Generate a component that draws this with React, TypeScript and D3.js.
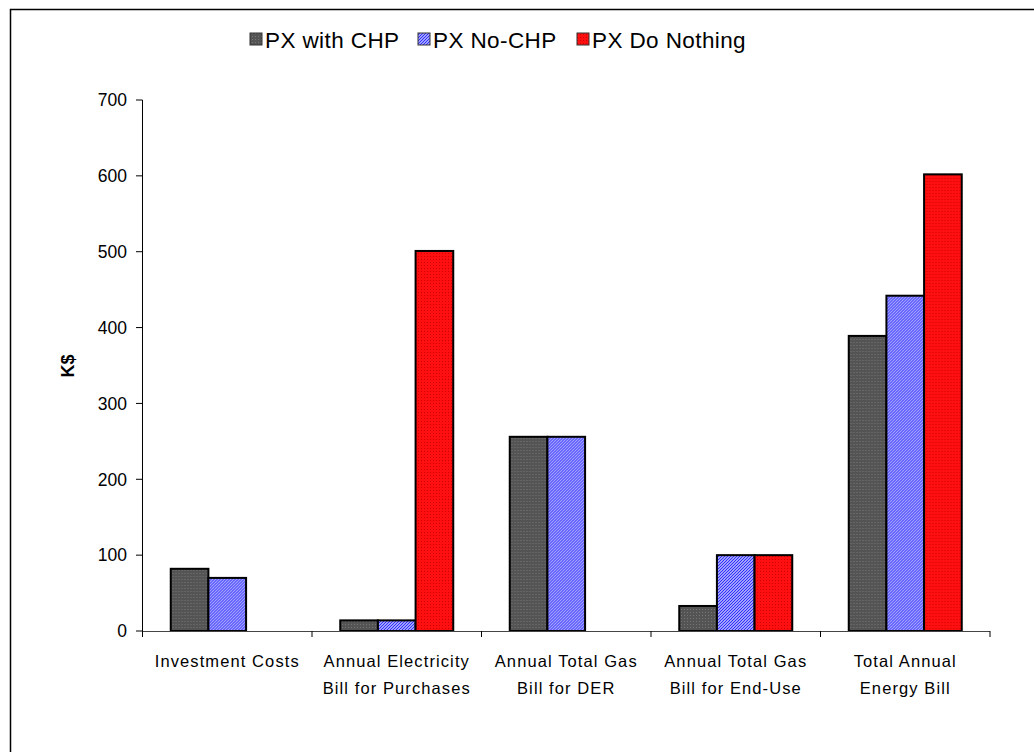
import React from "react";
import * as d3 from "d3";

const categories: string[][] = [
  ["Investment Costs"],
  ["Annual Electricity", "Bill for Purchases"],
  ["Annual Total Gas", "Bill for DER"],
  ["Annual Total Gas", "Bill for End-Use"],
  ["Total Annual", "Energy Bill"],
];
const seriesNames = ["PX with CHP", "PX No-CHP", "PX Do Nothing"];
const withCHP = [82, 14, 256, 33, 389];
const noCHP = [70, 14, 256, 100, 442];
const doNothing = [0, 501, 0, 100, 602];
const yTicks = [0, 100, 200, 300, 400, 500, 600, 700];

const seriesValues = [withCHP, noCHP, doNothing];
const fills = ["url(#patGray)", "url(#patBlue)", "url(#patRed)"];

export default function App() {
  const W = 1034;
  const H = 752;
  const x0 = d3
    .scaleBand<number>()
    .domain(categories.map((_, i) => i))
    .range([142.5, 990])
    .padding(0);
  const x1 = d3
    .scaleBand<number>()
    .domain([0, 1, 2])
    .range([0, x0.bandwidth()])
    .paddingInner(0)
    .paddingOuter(0.75);
  const y = d3.scaleLinear().domain([0, 700]).range([631, 100]);
  const font = "Liberation Sans, Arial, sans-serif";

  const legendItems = [
    { x: 250, label: seriesNames[0] },
    { x: 418, label: seriesNames[1] },
    { x: 577, label: seriesNames[2] },
  ];

  return (
    <svg
      width={W}
      height={H}
      style={{ position: "absolute", left: 0, top: 0, background: "#fff" }}
      fontFamily={font}
    >
      <defs>
        <pattern id="patGray" width="3" height="3" patternUnits="userSpaceOnUse">
          <rect width="3" height="3" fill="#545454" />
          <rect x="0" y="0" width="1" height="1" fill="#767676" />
        </pattern>
        <pattern id="patBlue" width="3" height="3" patternUnits="userSpaceOnUse">
          <rect width="3" height="3" fill="#ffffff" />
          <path d="M0,3 L3,0 M-1,1 L1,-1 M2,4 L4,2" stroke="#2f2fff" strokeWidth="1.3" />
        </pattern>
        <pattern id="patRed" width="3" height="3" patternUnits="userSpaceOnUse">
          <rect width="3" height="3" fill="#ff1010" />
          <rect x="1" y="1" width="1" height="1" fill="#d00000" />
        </pattern>
      </defs>

      <rect x={10.5} y={9.5} width={1040} height={760} fill="none" stroke="#000" strokeWidth={1.5} />

      {/* Legend */}
      {legendItems.map((it, i) => (
        <g key={i}>
          <rect x={it.x} y={33} width={12} height={12} fill={fills[i]} stroke="#333" strokeWidth={1} />
          <text x={it.x + 15} y={47.5} fontSize={22.5} letterSpacing={0.4} fill="#000">
            {it.label}
          </text>
        </g>
      ))}

      {/* Bars */}
      {categories.map((_, ci) => (
        <g key={ci} transform={`translate(${x0(ci)},0)`}>
          {seriesValues.map((vals, si) =>
            vals[ci] > 0 ? (
              <rect
                key={si}
                x={x1(si)!}
                y={y(vals[ci])}
                width={x1.bandwidth()}
                height={y(0) - y(vals[ci])}
                fill={fills[si]}
                stroke="#000"
                strokeWidth={2}
              />
            ) : null
          )}
        </g>
      ))}

      {/* Y axis */}
      <line x1={142.5} x2={142.5} y1={y(700)} y2={y(0)} stroke="#000" strokeWidth={1} />
      {yTicks.map((t) => (
        <g key={t}>
          <line x1={136} x2={142.5} y1={y(t)} y2={y(t)} stroke="#000" strokeWidth={1} />
          <text x={127} y={y(t)} dy="0.36em" textAnchor="end" fontSize={17.5} fill="#000">
            {t}
          </text>
        </g>
      ))}

      {/* X axis */}
      <line x1={142.5} x2={990} y1={y(0) + 0.5} y2={y(0) + 0.5} stroke="#444" strokeWidth={1} />
      {d3.range(categories.length + 1).map((i) => {
        const xx = i < categories.length ? x0(i)! : x0(categories.length - 1)! + x0.bandwidth();
        return <line key={i} x1={xx} x2={xx} y1={y(0)} y2={y(0) + 6} stroke="#000" strokeWidth={1} />;
      })}
      {categories.map((lines, ci) => (
        <text
          key={ci}
          x={x0(ci)! + x0.bandwidth() / 2}
          textAnchor="middle"
          fontSize={16.5}
          letterSpacing={1.1}
          fill="#000"
        >
          {lines.map((l, li) => (
            <tspan key={li} x={x0(ci)! + x0.bandwidth() / 2} y={667 + li * 27}>
              {l}
            </tspan>
          ))}
        </text>
      ))}

      {/* Y label */}
      <text
        transform="translate(74,366) rotate(-90)"
        textAnchor="middle"
        fontSize={18}
        fontWeight="bold"
        fill="#000"
      >
        K$
      </text>
    </svg>
  );
}
